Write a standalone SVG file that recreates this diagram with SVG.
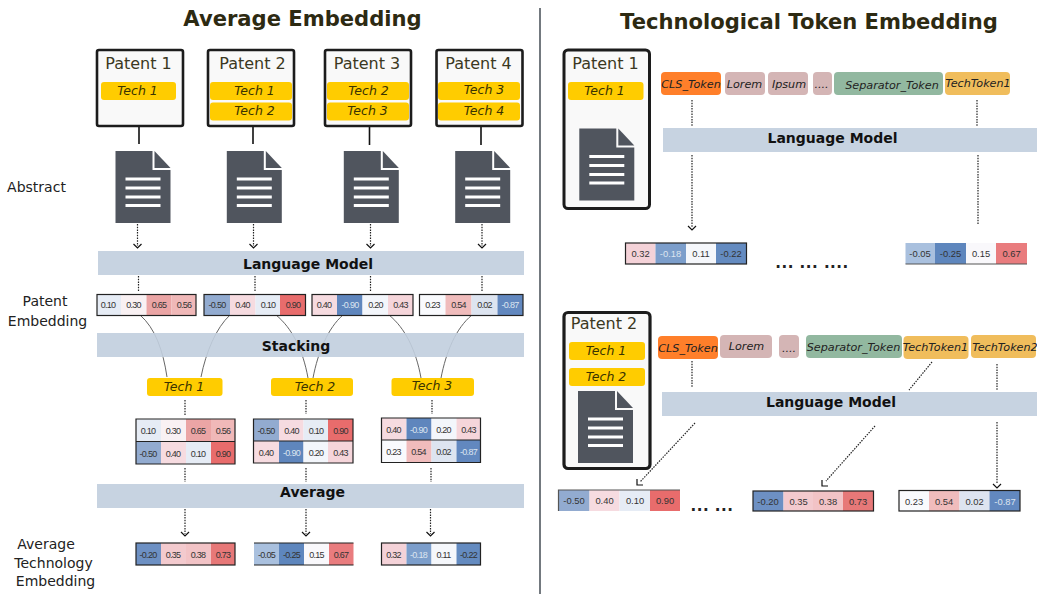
<svg xmlns="http://www.w3.org/2000/svg" width="1037" height="594" viewBox="0 0 1037 594">
<style>
text{font-family:"DejaVu Sans",sans-serif;text-anchor:middle}
.title{font-size:21.1px;font-weight:700;fill:#2d2a12}
.side{font-size:14px;fill:#222}
.bar{fill:#c1cede;fill-opacity:.9}
.bt{font-size:14px;font-weight:700;fill:#111}
.pbox{fill:#f9f9f9;stroke:#1c1c1c;stroke-width:2.6}
.pt{font-size:16px;fill:#3b3822}
.pill{fill:#ffcc00}
.it{font-size:12.5px;font-style:italic;fill:#3a3300}
.tk{font-size:11.2px;font-style:italic;fill:#222}
.solid{stroke:#111;stroke-width:1.6;fill:none}
.dot{stroke:#222;stroke-width:1.2;stroke-dasharray:1.5 1.2;fill:none}
.head{stroke:#111;stroke-width:1.2;fill:none}
.curve{stroke:#666;stroke-width:1;fill:none}
.frame{fill:none;stroke:#222;stroke-width:1.2}
.c{font-family:"Liberation Sans",sans-serif;font-size:9px;fill:#333;letter-spacing:-.7px}
.r{font-family:"Liberation Sans",sans-serif;font-size:9.4px;fill:#333}
.w{fill:#dde5f0}
.dots{font-size:15px;font-weight:700;fill:#222;letter-spacing:.5px}
</style>
<defs>
<g id="doc">
<path fill="#50555e" d="M0 0H37V19H55V72H0Z"/>
<path fill="#50555e" d="M39 0L55 17H39Z"/>
<path stroke="#fff" stroke-width="2.8" d="M10 28H45M10 37H45M10 46H45M10 54.500H45"/>
</g>
</defs>
<line x1="540" y1="8" x2="540" y2="594" stroke="#444c55" stroke-width="1.5"/>
<text class="title" x="302.500" y="25.500">Average Embedding</text>
<text class="title" x="809" y="28.500">Technological Token Embedding</text>
<g id="left-labels">
<text class="side" x="36.500" y="192">Abstract</text>
<text class="side" x="45" y="306">Patent</text>
<text class="side" x="47.500" y="326">Embedding</text>
<text class="side" x="46" y="549">Average</text>
<text class="side" x="53.500" y="568">Technology</text>
<text class="side" x="55.500" y="586">Embedding</text>
</g>
<g id="connectors">
<path class="solid" d="M139 127V144M253 127V144M369.500 127V145M481 127V145"/>
<path class="dot" d="M137.500 224V246M253.500 224V246M370.500 224V246M482 224V246M138.500 276V292M255 276V292M370.500 276V292M482 276V292M185 400V415M306 400V414M432 400V414M185 468V482M306 468V482M431 468V482M185 509V534M306 509V534M430.500 509V534M692 100V126M692 155V228M977 100V126M978 155V224M692 361V387M997 364V390M997 422V484M695 423L640 482M932 362L909 390M875 426L826 481"/>
<path class="head" d="M133.500 244L137.500 248L141.500 244M249.500 244L253.500 248L257.500 244M366.500 244L370.500 248L374.500 244M478 244L482 248L486 244M181 532L185 536L189 532M302 532L306 536L310 532M426.500 532L430.500 536L434.500 532M688 226L692 230L696 226M993 484L997 488L1001 484"/>
<path class="head" stroke-width="1.400" d="M637 479V485H643M822 480V486H828"/>
<path class="curve" d="M140 315C155 328 163 350 167 377M230 315C216 328 206 352 201 377M276 315C292 328 303 350 308 378M343 315C328 328 318 352 313 378M389 315C405 328 416 350 421 378M472 315C456 328 446 352 441 378"/>
</g>
<g id="bars">
<g id="bar-lm-left"><rect class="bar" x="98" y="251" width="426" height="24"/><text class="bt" x="308" y="269">Language Model</text></g>
<g id="bar-stacking"><rect class="bar" x="97" y="333" width="427" height="24"/><text class="bt" x="296" y="351">Stacking</text></g>
<g id="bar-average"><rect class="bar" x="97" y="484" width="427" height="24"/><text class="bt" x="312.500" y="497">Average</text></g>
<g id="bar-lm-r1"><rect class="bar" x="663" y="128" width="374" height="24"/><text class="bt" x="832.500" y="143">Language Model</text></g>
<g id="bar-lm-r2"><rect class="bar" x="662" y="392" width="375" height="24"/><text class="bt" x="831" y="407">Language Model</text></g>
</g>
<g id="patent-1"><rect class="pbox" x="97" y="50" width="86" height="76" rx="2"/><text class="pt" x="138.500" y="69">Patent 1</text><rect class="pill" x="101" y="82" width="75" height="18" rx="3"/><text class="it" x="137.500" y="94.500">Tech 1</text></g>
<g id="patent-2"><rect class="pbox" x="208" y="50" width="86" height="76" rx="2"/><text class="pt" x="252.500" y="69">Patent 2</text><rect class="pill" x="210" y="82" width="82" height="18" rx="3"/><text class="it" x="254.500" y="95">Tech 1</text><rect class="pill" x="210" y="102.500" width="82" height="18" rx="3"/><text class="it" x="254.500" y="114.500">Tech 2</text></g>
<g id="patent-3"><rect class="pbox" x="325" y="50" width="86" height="76" rx="2"/><text class="pt" x="367" y="69">Patent 3</text><rect class="pill" x="327" y="82" width="82" height="18" rx="3"/><text class="it" x="368.500" y="94.500">Tech 2</text><rect class="pill" x="327" y="102.500" width="82" height="18" rx="3"/><text class="it" x="367.500" y="114.500">Tech 3</text></g>
<g id="patent-4"><rect class="pbox" x="436.500" y="50" width="86" height="76" rx="2"/><text class="pt" x="478.500" y="69">Patent 4</text><rect class="pill" x="438" y="82" width="82" height="18" rx="3"/><text class="it" x="484" y="93.500">Tech 3</text><rect class="pill" x="438" y="102.500" width="82" height="18" rx="3"/><text class="it" x="484" y="114.500">Tech 4</text></g>
<g id="abstract-docs"><use href="#doc" x="115.500" y="151"/><use href="#doc" x="226.800" y="151"/><use href="#doc" x="343.800" y="151"/><use href="#doc" x="455.200" y="151"/></g>

<g id="patent-embedding-1">
<rect x="97" y="294.500" width="24" height="21" fill="#e6ecf5"/><rect x="121" y="294.500" width="25.500" height="21" fill="#f9f1f3"/><rect x="146.500" y="294.500" width="25" height="21" fill="#eba5a5"/><rect x="171.500" y="294.500" width="24.500" height="21" fill="#f0b8b8"/><rect class="frame" x="97" y="294.500" width="99" height="21"/>
<text class="c" x="108" y="308">0.10</text><text class="c" x="133.500" y="308">0.30</text><text class="c" x="159" y="308">0.65</text><text class="c" x="184" y="308">0.56</text></g>
<g id="patent-embedding-2">
<rect x="204" y="294.500" width="26" height="21" fill="#92abd0"/><rect x="230" y="294.500" width="25.500" height="21" fill="#f6dbe0"/><rect x="255.500" y="294.500" width="24.500" height="21" fill="#e6ecf5"/><rect x="280" y="294.500" width="25.500" height="21" fill="#e86c6c"/><rect class="frame" x="204" y="294.500" width="101.500" height="21"/>
<text class="c" x="217" y="308">-0.50</text><text class="c" x="242.500" y="308">0.40</text><text class="c" x="268" y="308">0.10</text><text class="c" x="293" y="308">0.90</text></g>
<g id="patent-embedding-3">
<rect x="312" y="294.500" width="25" height="21" fill="#f6dbe0"/><rect x="337" y="294.500" width="25.500" height="21" fill="#5f86bd"/><rect x="362.500" y="294.500" width="25.500" height="21" fill="#f3f6fb"/><rect x="388" y="294.500" width="25" height="21" fill="#f5d5da"/><rect class="frame" x="312" y="294.500" width="101" height="21"/>
<text class="c" x="324" y="308">0.40</text><text class="c w" x="350" y="308">-0.90</text><text class="c" x="375.500" y="308">0.20</text><text class="c" x="400.500" y="308">0.43</text></g>
<g id="patent-embedding-4">
<rect x="419.500" y="294.500" width="26" height="21" fill="#f9fafd"/><rect x="445.500" y="294.500" width="26" height="21" fill="#f0bcbc"/><rect x="471.500" y="294.500" width="26" height="21" fill="#dde4f0"/><rect x="497.500" y="294.500" width="25.500" height="21" fill="#6288bf"/><rect class="frame" x="419.500" y="294.500" width="103.500" height="21"/>
<text class="c" x="432.500" y="308">0.23</text><text class="c" x="458.500" y="308">0.54</text><text class="c" x="484.500" y="308">0.02</text><text class="c w" x="510" y="308">-0.87</text></g>

<g id="tech-1"><rect class="pill" x="147" y="378" width="75.500" height="18" rx="3"/><text class="it" x="184" y="391">Tech 1</text></g>
<g id="tech-2"><rect class="pill" x="271" y="378" width="82" height="18" rx="3"/><text class="it" x="315" y="391">Tech 2</text></g>
<g id="tech-3"><rect class="pill" x="391.500" y="378" width="82.500" height="18" rx="3"/><text class="it" x="432" y="390">Tech 3</text></g>

<g id="stack-tech-1">
<rect x="136" y="419" width="25" height="22.500" fill="#e6ecf5"/><rect x="161" y="419" width="25" height="22.500" fill="#f9f1f3"/><rect x="186" y="419" width="25" height="22.500" fill="#eba5a5"/><rect x="211" y="419" width="24" height="22.500" fill="#f0b8b8"/>
<rect x="136" y="441.500" width="25" height="22.500" fill="#92abd0"/><rect x="161" y="441.500" width="25" height="22.500" fill="#f6dbe0"/><rect x="186" y="441.500" width="25" height="22.500" fill="#e6ecf5"/><rect x="211" y="441.500" width="24" height="22.500" fill="#e86c6c"/>
<path class="frame" d="M136 419H235V464H136ZM136 441.500H235"/>
<text class="c" x="148" y="434">0.10</text><text class="c" x="173" y="434">0.30</text><text class="c" x="198" y="434">0.65</text><text class="c" x="223" y="434">0.56</text>
<text class="c" x="148" y="456.500">-0.50</text><text class="c" x="173" y="456.500">0.40</text><text class="c" x="198" y="456.500">0.10</text><text class="c" x="223" y="456.500">0.90</text></g>
<g id="stack-tech-2">
<rect x="253.500" y="419" width="25.500" height="22" fill="#92abd0"/><rect x="279" y="419" width="24.500" height="22" fill="#f6dbe0"/><rect x="303.500" y="419" width="24.500" height="22" fill="#e6ecf5"/><rect x="328" y="419" width="25" height="22" fill="#e86c6c"/>
<rect x="253.500" y="441" width="25.500" height="22" fill="#f6dbe0"/><rect x="279" y="441" width="24.500" height="22" fill="#5f86bd"/><rect x="303.500" y="441" width="24.500" height="22" fill="#f3f6fb"/><rect x="328" y="441" width="25" height="22" fill="#f5d5da"/>
<path class="frame" d="M253.500 419H353V463H253.500ZM253.500 441H353"/>
<text class="c" x="266" y="433.500">-0.50</text><text class="c" x="291.500" y="433.500">0.40</text><text class="c" x="316" y="433.500">0.10</text><text class="c" x="340.500" y="433.500">0.90</text>
<text class="c" x="266" y="455.500">0.40</text><text class="c w" x="291.500" y="455.500">-0.90</text><text class="c" x="316" y="455.500">0.20</text><text class="c" x="340.500" y="455.500">0.43</text></g>
<g id="stack-tech-3">
<rect x="381.500" y="418" width="25" height="22" fill="#f6dbe0"/><rect x="406.500" y="418" width="25" height="22" fill="#5f86bd"/><rect x="431.500" y="418" width="25" height="22" fill="#f3f6fb"/><rect x="456.500" y="418" width="24" height="22" fill="#f5d5da"/>
<rect x="381.500" y="440" width="25" height="22.500" fill="#f9fafd"/><rect x="406.500" y="440" width="25" height="22.500" fill="#f0bcbc"/><rect x="431.500" y="440" width="25" height="22.500" fill="#dde4f0"/><rect x="456.500" y="440" width="24" height="22.500" fill="#6288bf"/>
<path class="frame" d="M381.500 418H480.500V462.500H381.500ZM381.500 440H480.500"/>
<text class="c" x="393.500" y="433">0.40</text><text class="c w" x="418.500" y="433">-0.90</text><text class="c" x="443.500" y="433">0.20</text><text class="c" x="468.500" y="433">0.43</text>
<text class="c" x="393.500" y="455">0.23</text><text class="c" x="418.500" y="455">0.54</text><text class="c" x="443.500" y="455">0.02</text><text class="c w" x="468.500" y="455">-0.87</text></g>

<g id="avg-tech-1">
<rect x="136" y="543" width="25" height="22" fill="#6d90c3"/><rect x="161" y="543" width="25" height="22" fill="#f3cace"/><rect x="186" y="543" width="25" height="22" fill="#f2c3c6"/><rect x="211" y="543" width="24" height="22" fill="#e77878"/>
<rect class="frame" x="136" y="543" width="99" height="22" stroke="#555"/>
<text class="c" x="148" y="557.500">-0.20</text><text class="c" x="173" y="557.500">0.35</text><text class="c" x="198" y="557.500">0.38</text><text class="c" x="223" y="557.500">0.73</text></g>
<g id="avg-tech-2">
<rect x="254" y="543" width="25" height="22" fill="#a9c0de"/><rect x="279" y="543" width="25" height="22" fill="#5e86bd"/><rect x="304" y="543" width="25" height="22" fill="#f9f8fb"/><rect x="329" y="543" width="24.500" height="22" fill="#e97c7e"/>
<path class="frame" d="M254 543H353.500M254 565H353.500" stroke="#555"/>
<text class="c" x="266.500" y="557.500">-0.05</text><text class="c" x="291.500" y="557.500">-0.25</text><text class="c" x="316.500" y="557.500">0.15</text><text class="c" x="341" y="557.500">0.67</text></g>
<g id="avg-tech-3">
<rect x="381.500" y="543" width="25" height="22" fill="#f4d2d8"/><rect x="406.500" y="543" width="25" height="22" fill="#7c9ecb"/><rect x="431.500" y="543" width="25" height="22" fill="#f5f7fb"/><rect x="456.500" y="543" width="24" height="22" fill="#648bc0"/>
<rect class="frame" x="381.500" y="543" width="99" height="22" stroke="#555"/>
<text class="c" x="393.500" y="557.500">0.32</text><text class="c w" x="418.500" y="557.500">-0.18</text><text class="c" x="443.500" y="557.500">0.11</text><text class="c" x="468.500" y="557.500">-0.22</text></g>

<g id="r-patent-1"><rect class="pbox" x="564" y="50" width="85.500" height="158.500" rx="4" style="stroke-width:3"/><text class="pt" x="605.500" y="69">Patent 1</text><rect class="pill" x="568" y="82" width="75.500" height="18" rx="3"/><text class="it" x="604.500" y="94.500">Tech 1</text><use href="#doc" x="579.300" y="128.500"/></g>
<g id="r-tokens-1">
<rect x="661" y="72" width="60" height="23" rx="4" fill="#ff7f2a"/><text class="tk" x="691" y="88">CLS_Token</text>
<rect x="725" y="72" width="40" height="23" rx="4" fill="#d4b5b5"/><text class="tk" x="744.500" y="88">Lorem</text>
<rect x="768" y="72" width="40" height="23" rx="4" fill="#d4b5b5"/><text class="tk" x="789" y="88">Ipsum</text>
<rect x="813" y="72" width="19" height="23" rx="4" fill="#d4b5b5"/><text class="tk" x="821.500" y="88">....</text>
<rect x="834" y="72" width="109" height="23" rx="4" fill="#92b8a0"/><text class="tk" x="892" y="89">Separator_Token</text>
<rect x="945" y="72" width="65" height="23" rx="4" fill="#f0bd5c"/><text class="tk" x="978" y="86.500">TechToken1</text>
</g>
<g id="r-embed-1a">
<rect x="625.500" y="243" width="30" height="21" fill="#f4d2d8"/><rect x="655.500" y="243" width="30.500" height="21" fill="#7c9ecb"/><rect x="686" y="243" width="30" height="21" fill="#f5f7fb"/><rect x="716" y="243" width="30.500" height="21" fill="#648bc0"/>
<rect class="frame" x="625.500" y="243" width="121" height="21"/>
<text class="r" x="640.500" y="257">0.32</text><text class="r w" x="670.500" y="257">-0.18</text><text class="r" x="701" y="257">0.11</text><text class="r" x="731" y="257">-0.22</text></g>
<g id="r-embed-1b">
<rect x="905.500" y="243" width="29.500" height="21" fill="#a9c0de"/><rect x="935" y="243" width="31" height="21" fill="#5e86bd"/><rect x="966" y="243" width="30" height="21" fill="#f9f8fb"/><rect x="996" y="243" width="31" height="21" fill="#e97c7e"/>
<path class="frame" d="M905.500 264H1027" style="stroke:#555"/>
<text class="r" x="920" y="257">-0.05</text><text class="r" x="950.500" y="257">-0.25</text><text class="r" x="981" y="257">0.15</text><text class="r" x="1011.500" y="257">0.67</text></g>
<text class="dots" x="812" y="268">... ... ....</text>

<g id="r-patent-2"><rect class="pbox" x="564" y="312.500" width="86" height="156" rx="4" style="stroke-width:3.2"/><text class="pt" x="604" y="329">Patent 2</text><rect class="pill" x="569" y="342" width="76" height="18" rx="3"/><text class="it" x="606" y="354.500">Tech 1</text><rect class="pill" x="569" y="368" width="76" height="18" rx="3"/><text class="it" x="606" y="380.500">Tech 2</text><use href="#doc" x="578" y="391"/></g>
<g id="r-tokens-2">
<rect x="658" y="336" width="60" height="23" rx="4" fill="#ff7f2a"/><text class="tk" x="688" y="351.500">CLS_Token</text>
<rect x="720" y="335" width="52" height="23" rx="4" fill="#d4b5b5"/><text class="tk" x="746.500" y="350">Lorem</text>
<rect x="779" y="335" width="20" height="23" rx="4" fill="#d4b5b5"/><text class="tk" x="789" y="352">....</text>
<rect x="806" y="335" width="96" height="23" rx="4" fill="#92b8a0"/><text class="tk" x="853.500" y="351">Separator_Token</text>
<rect x="903.500" y="336" width="65" height="23" rx="4" fill="#f0bd5c"/><text class="tk" x="935.500" y="351">TechToken1</text>
<rect x="971" y="335" width="65" height="23" rx="4" fill="#f0bd5c"/><text class="tk" x="1005" y="351">TechToken2</text>
</g>
<g id="r-embed-2a">
<rect x="558.500" y="490" width="31" height="21" fill="#92abd0"/><rect x="589.500" y="490" width="30" height="21" fill="#f6dbe0"/><rect x="619.500" y="490" width="30.500" height="21" fill="#e6ecf5"/><rect x="650" y="490" width="30" height="21" fill="#e86c6c"/>
<path class="frame" d="M558.500 511V490H680" style="stroke:#555"/>
<text class="r" x="574" y="504">-0.50</text><text class="r" x="604.500" y="504">0.40</text><text class="r" x="635" y="504">0.10</text><text class="r" x="665" y="504">0.90</text></g>
<g id="r-embed-2b">
<rect x="753" y="491" width="30.500" height="20" fill="#6d90c3"/><rect x="783.500" y="491" width="29.500" height="20" fill="#f3cace"/><rect x="813" y="491" width="30" height="20" fill="#f2c3c6"/><rect x="843" y="491" width="30.500" height="20" fill="#e77878"/>
<rect class="frame" x="753" y="491" width="120.500" height="20"/>
<text class="r" x="768" y="504.500">-0.20</text><text class="r" x="798.500" y="504.500">0.35</text><text class="r" x="828" y="504.500">0.38</text><text class="r" x="858" y="504.500">0.73</text></g>
<g id="r-embed-2c">
<rect x="899" y="490.500" width="30" height="20.500" fill="#f9fafd"/><rect x="929" y="490.500" width="30.500" height="20.500" fill="#f0bcbc"/><rect x="959.500" y="490.500" width="30" height="20.500" fill="#dde4f0"/><rect x="989.500" y="490.500" width="30.500" height="20.500" fill="#6288bf"/>
<rect class="frame" x="899" y="490.500" width="121" height="20.500"/>
<text class="r" x="914" y="504.500">0.23</text><text class="r" x="944" y="504.500">0.54</text><text class="r" x="974.500" y="504.500">0.02</text><text class="r w" x="1005" y="504.500">-0.87</text></g>
<text class="dots" x="712" y="511">... ...</text>
</svg>
